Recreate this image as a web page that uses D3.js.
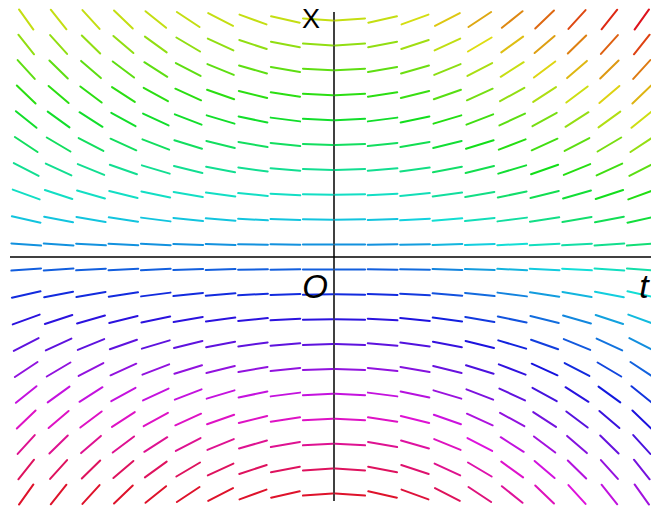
<!DOCTYPE html>
<html>
<head>
<meta charset="utf-8">
<script src="https://cdn.jsdelivr.net/npm/d3@7"></script>
<style>
  body { margin: 0; background: #fff; }
  text { font-family: "Liberation Sans", "DejaVu Sans", sans-serif; }
</style>
</head>
<body>
<script>
// direction field of dx/dt = 2 t x, 20 x 20 grid
let tGrid = [-0.95, -0.85, -0.75, -0.65, -0.55, -0.45, -0.35, -0.25, -0.15, -0.05,
             0.05, 0.15, 0.25, 0.35, 0.45, 0.55, 0.65, 0.75, 0.85, 0.95];
let xGrid = [0.95, 0.85, 0.75, 0.65, 0.55, 0.45, 0.35, 0.25, 0.15, 0.05,
             -0.05, -0.15, -0.25, -0.35, -0.45, -0.55, -0.65, -0.75, -0.85, -0.95];
let slope = (t, x) => 2 * t * x;

let axisLabels = { x: "X", t: "t", origin: "O" };

let width = 651,
    height = 510;

let svg = d3.select("body").append("svg")
    .attr("width", width)
    .attr("height", height);

// scales
let tScale = d3.scaleLinear().domain([-1, 1]).range([10, 658]);
let xScale = d3.scaleLinear().domain([-1, 1]).range([507, 7]);

// hue runs with x, shifted toward red on the right half
let colorOf = (t, x) => {
    let h = 210 - 150 * x - Math.max(0, 10 * t - 2) * (7 + 2.5 * Math.abs(x));
    return d3.hsl((h + 360) % 360, 0.85, 0.47).formatHex();
};

let cells = [];
xGrid.forEach((x) => {
    tGrid.forEach((t) => {
        cells.push({ t: t, x: x, m: slope(t, x) });
    });
});

let half = 0.046; // half segment length in grid units

// axes
svg.append("line")
    .attr("x1", 10).attr("x2", 651)
    .attr("y1", xScale(0)).attr("y2", xScale(0))
    .attr("stroke", "#000").attr("stroke-width", 1.5);

svg.append("line")
    .attr("x1", tScale(0)).attr("x2", tScale(0))
    .attr("y1", 12).attr("y2", 501)
    .attr("stroke", "#000").attr("stroke-width", 1.5);

// segments
svg.selectAll(".seg")
    .data(cells)
    .enter().append("line")
    .attr("class", "seg")
    .attr("x1", (d) => tScale(d.t - half / Math.sqrt(1 + d.m * d.m)))
    .attr("x2", (d) => tScale(d.t + half / Math.sqrt(1 + d.m * d.m)))
    .attr("y1", (d) => xScale(d.x - half * d.m / Math.sqrt(1 + d.m * d.m)))
    .attr("y2", (d) => xScale(d.x + half * d.m / Math.sqrt(1 + d.m * d.m)))
    .attr("stroke", (d) => colorOf(d.t, d.x))
    .attr("stroke-width", 2)
    .attr("stroke-linecap", "round");

// labels
svg.append("text")
    .attr("x", 311).attr("y", 28)
    .attr("text-anchor", "middle")
    .style("font-size", "27px")
    .text(axisLabels.x);

svg.append("text")
    .attr("x", 315).attr("y", 298)
    .attr("text-anchor", "middle")
    .style("font-size", "33px")
    .style("font-style", "italic")
    .style("font-weight", "300")
    .text(axisLabels.origin);

svg.append("text")
    .attr("x", 644).attr("y", 298)
    .attr("text-anchor", "middle")
    .style("font-size", "34px")
    .style("font-style", "italic")
    .text(axisLabels.t);
</script>
</body>
</html>
